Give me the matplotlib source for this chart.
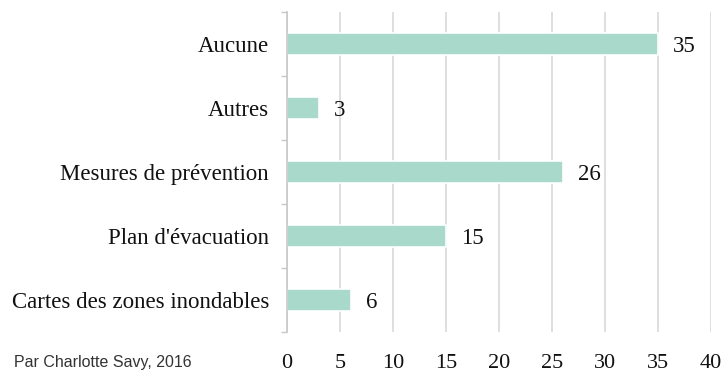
import numpy as np
import matplotlib
matplotlib.use("Agg")
import matplotlib.pyplot as plt

categories = ["Aucune", "Autres", "Mesures de prévention", "Plan d'évacuation",
              "Cartes des zones inondables"]
values = [35, 3, 26, 15, 6]
xticks = [0, 5, 10, 15, 20, 25, 30, 35, 40]
credit = "Par Charlotte Savy, 2016"

bar_color = "#a8d9cb"
grid_color = "#d9d9d9"

plt.rcParams['font.family'] = ['Liberation Serif', 'DejaVu Serif']

fig = plt.figure(figsize=(7.24, 3.71), dpi=100)
ax = fig.add_axes([0.3964, 0.1051, 0.5856, 0.8626])

y = np.arange(len(categories))
ax.barh(y, values, height=0.34, color=bar_color, edgecolor="white", linewidth=1.2, zorder=3)
for yi, v in zip(y, values):
    ax.annotate(str(v), (v, yi), xytext=(11, 0), textcoords="offset points",
                va="center_baseline", ha="left", fontsize=16.5, color="#111111")

ax.set_ylim(len(categories) - 0.5, -0.5)
ax.set_xlim(0, 40)
ax.set_xticks(xticks)
ax.set_yticks(y)
ax.set_yticklabels(categories)
ax.set_yticks(np.arange(len(categories) + 1) - 0.5, minor=True)

ax.tick_params(axis="x", length=0, pad=15.5, labelsize=16, labelcolor="#111111")
ax.tick_params(axis="y", which="major", length=0, pad=13, labelsize=16.5, labelcolor="#111111")
ax.tick_params(axis="y", which="minor", length=4, width=1, color="#c8c8c8")

ax.grid(axis="x", color=grid_color, linewidth=1.2, zorder=0)
for s in ["top", "right", "bottom"]:
    ax.spines[s].set_visible(False)
ax.spines["left"].set_color("#c8c8c8")
ax.spines["left"].set_linewidth(1.2)
ax.spines["left"].set_zorder(4)

fig.text(14 / 724, 1 - 362 / 371, credit, family="Liberation Sans", fontsize=11.5,
         color="#333333", va="center", ha="left")

fig.savefig("out.png", dpi=100)
